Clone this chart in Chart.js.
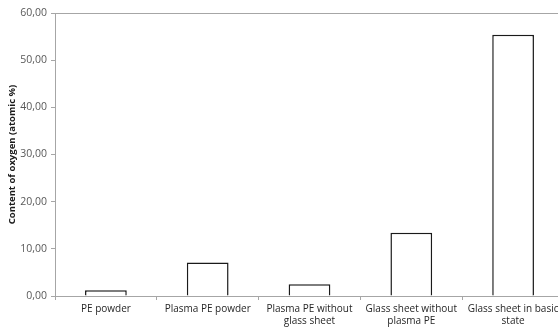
<!DOCTYPE html>
<html>
<head>
<meta charset="utf-8">
<script src="https://cdn.jsdelivr.net/npm/chart.js@4.4.0/dist/chart.umd.min.js"></script>
<style>
html,body{margin:0;padding:0;background:#fff;overflow:hidden;width:558px;height:329px;}
#wrap{width:564px;height:329px;}
</style>
</head>
<body>
<div id="wrap"><canvas id="c" width="564" height="329"></canvas></div>
<script>
const categories = [
  "PE powder",
  "Plasma PE powder",
  ["Plasma PE without", "glass sheet"],
  ["Glass sheet without", "plasma PE"],
  ["Glass sheet in basic", "state"]
];
const oxygenContent = [1.2, 7.1, 2.5, 13.4, 55.4];
const yTicks = [0, 10, 20, 30, 40, 50, 60];
const yTitle = "Content of oxygen (atomic %)";

const FONT = "'Open Sans', 'Noto Sans', sans-serif";
const AXIS = "#a6a6a6";

new Chart(document.getElementById('c'), {
  type: 'bar',
  data: {
    labels: categories,
    datasets: [{
      data: oxygenContent,
      backgroundColor: '#ffffff',
      borderColor: '#1a1a1a',
      borderWidth: 1.5,
      categoryPercentage: 1,
      barPercentage: 0.41
    }]
  },
  options: {
    responsive: false,
    animation: false,
    layout: { padding: { top: 13, left: 0, right: 0, bottom: 0 } },
    plugins: { legend: { display: false }, tooltip: { enabled: false } },
    scales: {
      x: {
        grid: { color: 'transparent', tickColor: AXIS, tickLength: 4, offset: true, drawTicks: true },
        border: { display: true, color: AXIS, width: 1 },
        ticks: { color: '#262626', font: { family: FONT, size: 10 }, maxRotation: 0, autoSkip: false, padding: 3 },
        afterFit: s => { s.height = 33; }
      },
      y: {
        min: 0, max: 60,
        afterBuildTicks: s => { s.ticks = yTicks.map(v => ({ value: v })); },
        grid: {
          color: c => (c.tick && c.tick.value === 60) ? AXIS : 'transparent',
          tickColor: AXIS, tickLength: 4
        },
        border: { display: true, color: AXIS, width: 1 },
        ticks: {
          color: '#595959', font: { family: FONT, size: 10.5 }, padding: 4,
          callback: v => v.toFixed(2).replace('.', ',')
        },
        title: {
          display: true, text: yTitle, color: '#1a1a1a',
          font: { family: FONT, size: 9.5, weight: 'bold' }, padding: { top: 7, bottom: 2 }
        },
        afterFit: s => { s.width = 55; }
      }
    }
  }
});
</script>
</body>
</html>
